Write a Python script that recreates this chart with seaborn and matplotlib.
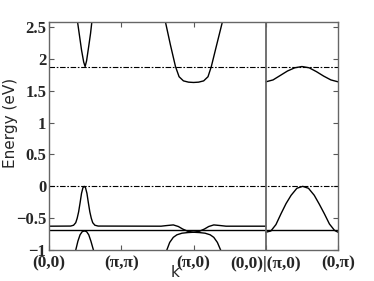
import matplotlib
matplotlib.use("Agg")
import matplotlib.pyplot as plt
import seaborn as sns

# k-path positions and labels
k_ticks = [0, 1, 2, 3, 4]
k_labels = ["(0,0)", "(π,π)", "(π,0)", "(0,0)|(π,0)", "(0,π)"]
e_ticks = [-1, -0.5, 0, 0.5, 1, 1.5, 2, 2.5]
e_labels = ["−1", "−0.5", "0", "0.5", "1", "1.5", "2", "2.5"]

# reference levels (dash-dot)
level_top = 1.88
level_zero = 0.0

# conduction band, V shape near (pi,pi)
cb1_k = [0.395, 0.42, 0.45, 0.48, 0.50, 0.52, 0.55, 0.575, 0.593]
cb1_e = [2.58, 2.38, 2.14, 1.95, 1.88, 1.97, 2.20, 2.40, 2.58]

# conduction band, U shape at (pi,0)
cb2_k = [1.611, 1.68, 1.75, 1.80, 1.86, 1.93, 2.0, 2.07, 2.14, 2.20, 2.246, 2.32, 2.399]
cb2_e = [2.58, 2.22, 1.88, 1.72, 1.655, 1.635, 1.63, 1.635, 1.655, 1.72, 1.88, 2.22, 2.58]

# conduction band, (pi,0)->(0,pi)
cb3_k = [3.0, 3.1, 3.2, 3.3, 3.4, 3.5, 3.6, 3.7, 3.8, 3.9, 4.0]
cb3_e = [1.64, 1.67, 1.74, 1.81, 1.86, 1.88, 1.86, 1.80, 1.73, 1.67, 1.64]

# upper valence band along (0,0)->(pi,pi)->(pi,0)->(0,0)
vb1_k = [0.0, 0.30, 0.34, 0.37, 0.39, 0.41, 0.43, 0.45, 0.47, 0.487, 0.505, 0.525,
         0.545, 0.565, 0.585, 0.605, 0.635, 0.68, 1.55, 1.63, 1.72, 1.79, 1.85,
         1.92, 2.0, 2.08, 2.15, 2.21, 2.28, 2.37, 2.45, 3.0]
vb1_e = [-0.625, -0.623, -0.61, -0.57, -0.50, -0.40, -0.26, -0.11, -0.02, 0.0, -0.02, -0.11,
         -0.26, -0.40, -0.50, -0.57, -0.61, -0.623, -0.625, -0.615, -0.605, -0.63, -0.67,
         -0.705, -0.72, -0.705, -0.67, -0.63, -0.605, -0.615, -0.625, -0.625]

# upper valence band, (pi,0)->(0,pi)
vb2_k = [3.0, 3.07, 3.14, 3.21, 3.28, 3.35, 3.43, 3.51, 3.59, 3.67, 3.74, 3.81, 3.88, 3.95, 4.0]
vb2_e = [-0.72, -0.70, -0.60, -0.43, -0.27, -0.14, -0.03, 0.0, -0.03, -0.14, -0.28, -0.43,
         -0.59, -0.69, -0.72]

# flat band
flat_k = [0.0, 4.0]
flat_e = [-0.69, -0.69]

# lower bands
lb1_k = [0.37, 0.40, 0.43, 0.46, 0.49, 0.52, 0.55, 0.58, 0.615]
lb1_e = [-1.0, -0.86, -0.76, -0.71, -0.70, -0.71, -0.76, -0.86, -1.0]
lb2_k = [1.63, 1.67, 1.72, 1.77, 1.84, 1.92, 2.0, 2.08, 2.16, 2.23, 2.28, 2.33, 2.375]
lb2_e = [-1.0, -0.88, -0.80, -0.76, -0.735, -0.725, -0.72, -0.725, -0.735, -0.76, -0.80, -0.88, -1.0]

sns.set_style("white")
plt.rcParams["font.family"] = ["DejaVu Sans"]

fig = plt.figure(figsize=(3.74, 2.81), dpi=100)
ax = fig.add_axes([0.131, 0.110, 0.773, 0.812])

dashdot = (0, (5, 1.5, 1.5, 1.5))
for y in (level_top, level_zero):
    sns.lineplot(x=[0, 4], y=[y, y], ax=ax, color="black", lw=0.8, linestyle=dashdot)

for xs, ys in [(cb1_k, cb1_e), (cb2_k, cb2_e), (cb3_k, cb3_e), (vb1_k, vb1_e),
               (vb2_k, vb2_e), (flat_k, flat_e), (lb1_k, lb1_e), (lb2_k, lb2_e)]:
    sns.lineplot(x=xs, y=ys, ax=ax, color="black", lw=1.0, sort=False, estimator=None)

ax.axvline(3, color="0.4", lw=1.3)

ax.set_xlim(0, 4)
ax.set_ylim(-1, 2.58)
ax.set_xticks(k_ticks)
ax.set_xticklabels(k_labels, family="Liberation Serif", weight="bold", fontsize=12.5)
ax.set_yticks(e_ticks)
ax.set_yticklabels(e_labels, family="Liberation Serif", weight="bold", fontsize=12)
ax.tick_params(direction="in", length=3.5, width=0.8, color="0.35",
               top=True, right=True, bottom=True, left=True)
ax.tick_params(axis="x", pad=4)
ax.tick_params(axis="y", pad=2)

for s in ax.spines.values():
    s.set_color("0.4")
    s.set_linewidth(1.0)

ax.set_ylabel("Energy (eV)", fontsize=11)
ax.set_xlabel("k", fontsize=11)
ax.xaxis.set_label_coords(0.436, -0.065)
ax.yaxis.set_label_coords(-0.108, 0.557)

fig.savefig("out.png", dpi=100)
